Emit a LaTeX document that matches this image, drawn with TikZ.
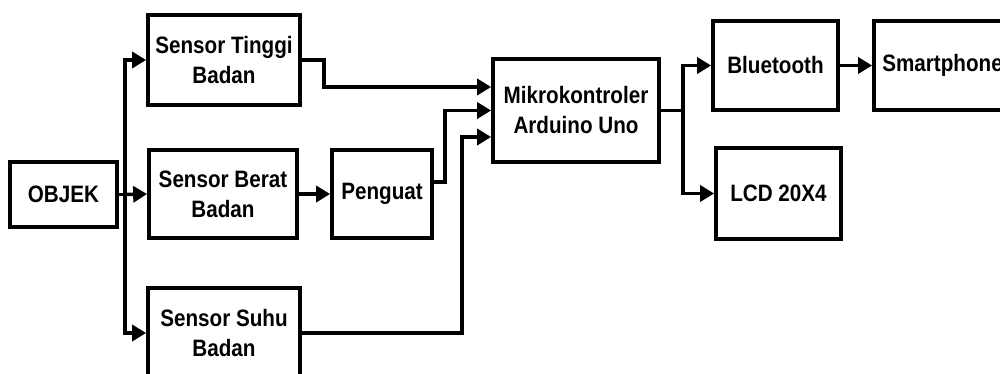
\documentclass[tikz,border=0pt]{standalone}
\usepackage{fontspec}
\setmainfont{Liberation Sans}[FakeStretch=0.87]
\usepackage{tikz}
\usetikzlibrary{arrows.meta,calc}

\begin{document}
\begin{tikzpicture}[x=0.75pt, y=-0.75pt,
  blok/.style={draw, line width=2.8pt, align=center, inner sep=0pt,
    font=\bfseries\fontsize{17.8}{22.5}\selectfont},
  panah/.style={-{Triangle[length=10.5pt,width=12pt]}, line width=2.6pt}]

\clip (0,0) rectangle (1000,374);

% ---------------- input side --------------------------------------------
\node[blok, minimum width=80pt, minimum height=48.75pt] (objek) at (63.5,194.5) {OBJEK};
\node[blok, minimum width=114pt, minimum height=67.5pt] (tinggi) at (224,60) {Sensor Tinggi\\Badan};
\node[blok, minimum width=111pt, minimum height=66pt] (berat) at (223,194) {Sensor Berat\\Badan};
\node[blok, minimum width=75pt, minimum height=66pt] (penguat) at (382,194) {Penguat};
\node[blok, minimum width=114pt, minimum height=67.5pt] (suhu) at (224,333) {Sensor Suhu\\Badan};

% ---------------- controller and outputs ---------------------------------
\node[blok, minimum width=124.5pt, minimum height=77.25pt] (mikro) at (576,110.5) {Mikrokontroler\\Arduino Uno};
\node[blok, minimum width=93.75pt, minimum height=66.75pt] (bt) at (775.5,65.5) {Bluetooth};
\node[blok, minimum width=93.75pt, minimum height=68.25pt] (lcd) at (778.5,193.5) {LCD 20X4};
\node[blok, minimum width=102.75pt, minimum height=66.75pt] (hp) at (942.5,65.5) {Smartphone};

% ---------------- connectors ----------------------------------------------
\coordinate (bagi) at (125,194.5);
\draw[line width=2.6pt] (objek.east) -- (bagi);
\draw[panah] (bagi) |- (tinggi.west);
\draw[panah] (bagi) -- (berat.west);
\draw[panah] (bagi) |- (suhu.west);
\draw[panah] (berat) -- (penguat);

\draw[panah] (tinggi.east) -- ++(22,0) |- ($(mikro.west)+(0,-23.5)$);
\draw[panah] ($(penguat.east)+(0,-12)$) -- ++(11,0) |- (mikro.west);
\draw[panah] (suhu.east) -- ++(160,0) |- ($(mikro.west)+(0,26.5)$);

\coordinate (cabang) at (683,110.5);
\draw[line width=2.6pt] (mikro.east) -- (cabang);
\draw[panah] (cabang) |- (bt.west);
\draw[panah] (cabang) |- (lcd.west);
\draw[panah] (bt) -- (hp);

\end{tikzpicture}
\end{document}
